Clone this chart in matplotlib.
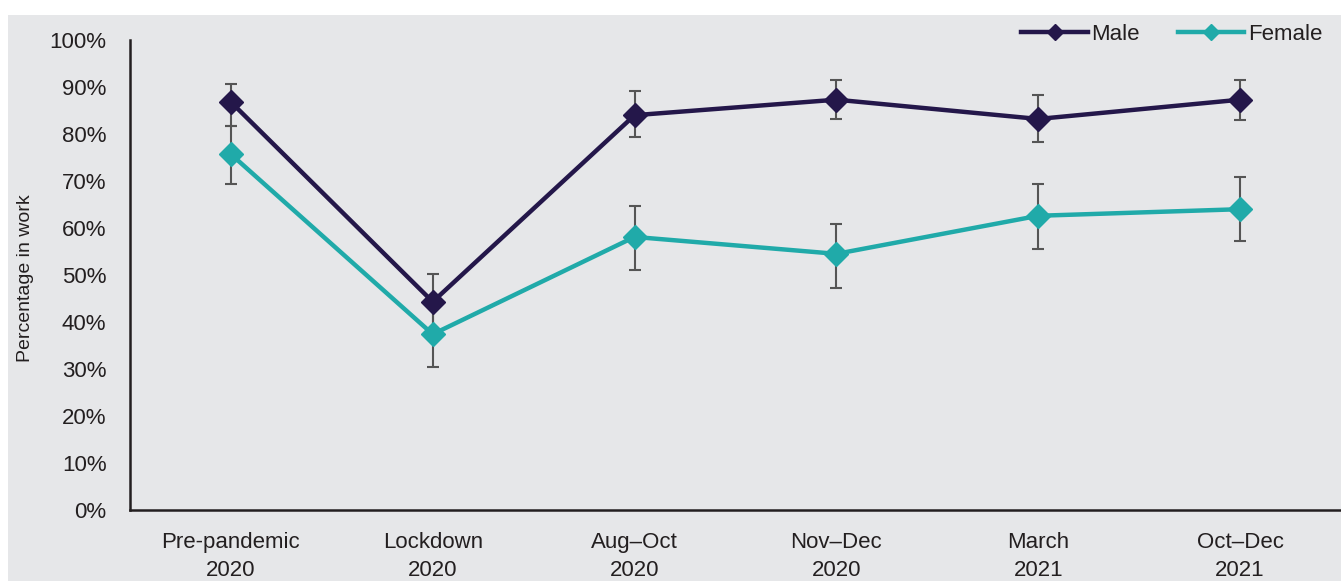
import matplotlib
matplotlib.use('Agg')
from matplotlib import pyplot as plt
from matplotlib.patches import Rectangle
from matplotlib.ticker import PercentFormatter

# Podaci procitani sa grafikona
periods = ['Pre-pandemic\n2020', 'Lockdown\n2020', 'Aug\u2013Oct\n2020',
           'Nov\u2013Dec\n2020', 'March\n2021', 'Oct\u2013Dec\n2021']
male = [86.8, 44.3, 84.0, 87.3, 83.2, 87.3]
male_low = [81.8, 38.5, 79.4, 83.1, 78.4, 83.0]
male_high = [90.6, 50.2, 89.1, 91.5, 88.4, 91.5]
female = [75.7, 37.4, 58.1, 54.5, 62.6, 64.0]
female_low = [69.4, 30.4, 51.1, 47.2, 55.6, 57.2]
female_high = [81.7, 44.0, 64.7, 60.9, 69.4, 70.9]

plt.rcParams['font.family'] = ['Liberation Sans', 'DejaVu Sans']
text_color = '#231f20'
male_color = '#24174a'
female_color = '#20aaa9'
err_color = '#555555'

fig = plt.figure(figsize=(13.41, 5.81), dpi=100)
fig.patch.set_facecolor('white')
# Sivi pozadinski pravougaonik
fig.patches.append(Rectangle((8 / 1341, 0), 1, 1 - 15 / 581, transform=fig.transFigure,
                             facecolor='#e6e7e9', edgecolor='none', zorder=-5))

ax = fig.add_axes([130 / 1341, 1 - 510 / 581, 1 - 130 / 1341, (510 - 40) / 581])
ax.set_facecolor('none')

x = list(range(len(periods)))

for vals, low, high, color, label in [
    (male, male_low, male_high, male_color, 'Male'),
    (female, female_low, female_high, female_color, 'Female'),
]:
    yerr = [[v - l for v, l in zip(vals, low)], [h - v for v, h in zip(vals, high)]]
    ax.errorbar(x, vals, yerr=yerr, fmt='none', ecolor=err_color, elinewidth=1.5,
                capsize=4.5, capthick=1.5, zorder=2)
    ax.plot(x, vals, color=color, linewidth=3.2, marker='D', markersize=12,
            label=label, zorder=3)

ax.set_xlim(-0.5, 5.5)
ax.set_ylim(0, 100)
ax.set_yticks(range(0, 101, 10))
ax.yaxis.set_major_formatter(PercentFormatter(decimals=0))
ax.set_xticks(x)
ax.set_xticklabels(periods, fontsize=16, color=text_color, linespacing=1.45)
ax.tick_params(axis='y', labelsize=16, labelcolor=text_color, length=0, pad=17)
ax.tick_params(axis='x', length=0, pad=16)

for side in ['top', 'right']:
    ax.spines[side].set_visible(False)
for side in ['left', 'bottom']:
    ax.spines[side].set_color(text_color)
    ax.spines[side].set_linewidth(1.8)

fig.text(25 / 1341, 1 - 278 / 581, 'Percentage in work', rotation=90, fontsize=14,
         color=text_color, ha='center', va='center')

leg = fig.legend(loc='center right', bbox_to_anchor=(1 - 10 / 1341, 1 - 34 / 581), ncol=2,
                 frameon=False, fontsize=16, handlelength=3.0, markerscale=0.7,
                 columnspacing=1.7, handletextpad=0.15, borderaxespad=0)
for t in leg.get_texts():
    t.set_color(text_color)

fig.savefig('out.png', dpi=100)
